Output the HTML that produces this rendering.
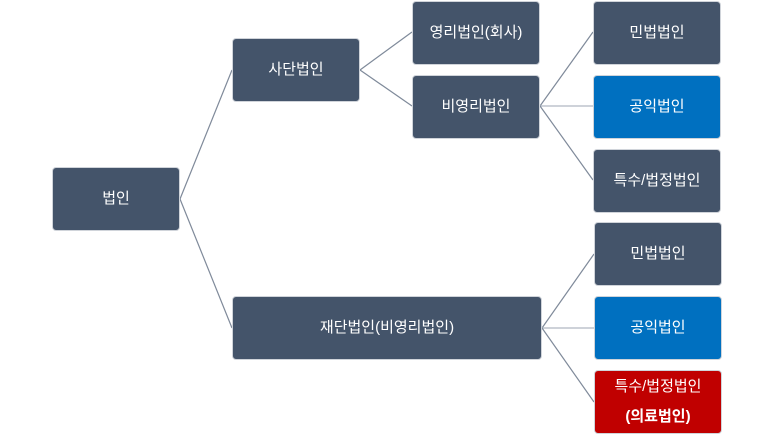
<!DOCTYPE html>
<html><head><meta charset="utf-8"><style>
body{margin:0;width:773px;height:444px;background:#fff;position:relative;overflow:hidden;font-family:"Liberation Sans","Noto Sans CJK KR",sans-serif;}
.b{position:absolute;background:#44546a;color:#fff;border-radius:4px;border:1px solid #d0d4da;box-sizing:border-box;display:flex;align-items:center;justify-content:center;text-align:center;font-size:15px;line-height:34px;}
.blue{background:#0070c0}.red{background:#c00000}
svg{position:absolute;left:0;top:0}
</style></head><body>
<svg width="773" height="444"><g stroke="#7f8a9a" stroke-width="1.2" fill="none">
<line x1="180" y1="199" x2="232" y2="70"/><line x1="180" y1="199" x2="232" y2="328"/>
<line x1="360" y1="70" x2="412" y2="32"/><line x1="360" y1="70" x2="412" y2="106"/>
<line x1="540" y1="106" x2="593" y2="32"/><line x1="540" y1="106" x2="593" y2="106" stroke="#b0b7c2"/><line x1="540" y1="106" x2="593" y2="180"/>
<line x1="542" y1="328" x2="594" y2="254"/><line x1="542" y1="328" x2="594" y2="328" stroke="#b0b7c2"/><line x1="542" y1="328" x2="594" y2="402"/>
</g></svg>
<div class="b" style="left:52px;top:167px;width:128px;height:64px">법인</div>
<div class="b" style="left:232px;top:38px;width:128px;height:64px">사단법인</div>
<div class="b" style="left:412px;top:1px;width:128px;height:64px">영리법인(회사)</div>
<div class="b" style="left:412px;top:75px;width:128px;height:64px">비영리법인</div>
<div class="b" style="left:593px;top:1px;width:128px;height:64px">민법법인</div>
<div class="b blue" style="left:593px;top:75px;width:128px;height:64px">공익법인</div>
<div class="b" style="left:593px;top:149px;width:128px;height:64px">특수/법정법인</div>
<div class="b" style="left:232px;top:296px;width:310px;height:64px">재단법인(비영리법인)</div>
<div class="b" style="left:594px;top:222px;width:128px;height:64px">민법법인</div>
<div class="b blue" style="left:594px;top:296px;width:128px;height:64px">공익법인</div>
<div class="b red" style="left:594px;top:370px;width:128px;height:64px;flex-direction:column;line-height:30px">특수/법정법인<br><b>(의료법인)</b></div>
</body></html>
